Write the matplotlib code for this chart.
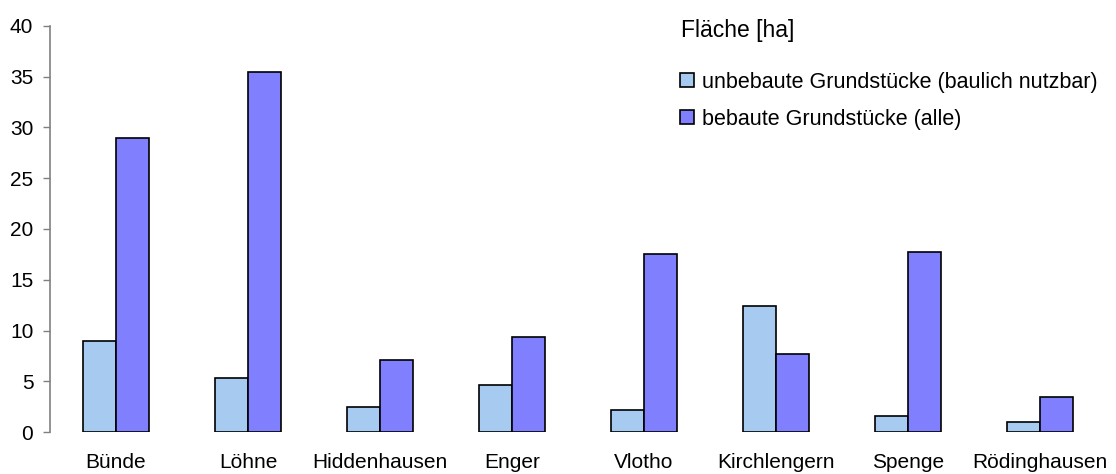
import numpy as np
import matplotlib.pyplot as plt

# Werte
orte = ["Bünde", "Löhne", "Hiddenhausen", "Enger", "Vlotho",
        "Kirchlengern", "Spenge", "Rödinghausen"]
unbebaut = [9.0, 5.3, 2.5, 4.7, 2.2, 12.4, 1.6, 1.0]
bebaut = [29.0, 35.4, 7.1, 9.4, 17.5, 7.7, 17.7, 3.5]
yticks = [0, 5, 10, 15, 20, 25, 30, 35, 40]

farbe_unbebaut = "#a6caf0"
farbe_bebaut = "#8080ff"

plt.rcParams['font.family'] = ['Liberation Sans', 'DejaVu Sans']

fig = plt.figure(figsize=(11.16, 4.74), dpi=100)
ax = fig.add_axes([0.0448, 0.088, 0.9462, 0.8578])

x = np.arange(len(orte))
w = 0.25
ax.bar(x - w / 2, unbebaut, w, color=farbe_unbebaut, edgecolor="black",
       linewidth=1.2, label="unbebaute Grundstücke (baulich nutzbar)")
ax.bar(x + w / 2, bebaut, w, color=farbe_bebaut, edgecolor="black",
       linewidth=1.2, label="bebaute Grundstücke (alle)")

ax.set_xlim(-0.5, len(orte) - 0.5)
ax.set_ylim(0, 40)
ax.set_yticks(yticks)
ax.set_xticks(x)
ax.set_xticklabels(orte)
ax.tick_params(axis="x", length=0, pad=15, labelsize=15)
ax.tick_params(axis="y", length=5, width=1, color="#808080", pad=7, labelsize=15)

for s in ["top", "right", "bottom"]:
    ax.spines[s].set_visible(False)
ax.spines["left"].set_color("#808080")
ax.spines["left"].set_linewidth(1.2)

fig.text(0.61, 0.9226, "Fläche [ha]", fontsize=16.5, va="baseline", ha="left")
fig.legend(loc="upper left", bbox_to_anchor=(0.609, 0.849), frameon=False,
           fontsize=15.5, handlelength=0.65, handleheight=0.65, handletextpad=0.37,
           labelspacing=0.75, borderaxespad=0, borderpad=0)

fig.savefig("out.png", dpi=100)
